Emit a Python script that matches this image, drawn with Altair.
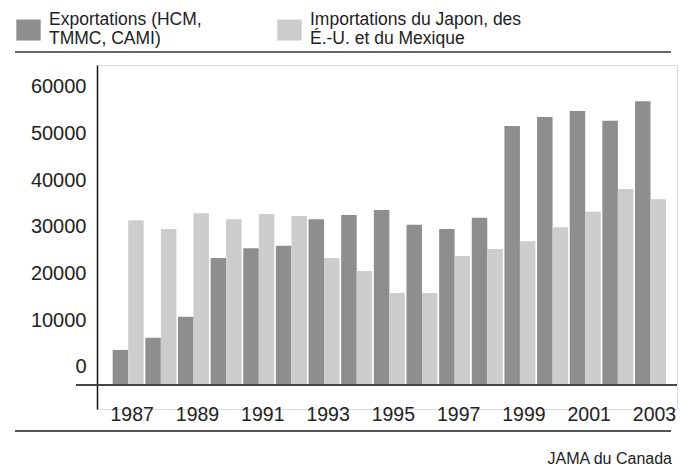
import altair as alt
import pandas as pd

# ---- data ----
years = list(range(1987, 2004))
exports = [3600, 6200, 10700, 23300, 25400, 25900, 31600, 32500, 33600,
           30400, 29500, 31900, 51600, 53500, 54800, 52700, 56900]
imports = [31400, 29500, 32900, 31600, 32700, 32300, 23300, 20500, 15800,
           15800, 23700, 25200, 26900, 29900, 33200, 38100, 35900]
series_names = ["Exportations (HCM,|TMMC, CAMI)",
                "Importations du Japon, des|É.-U. et du Mexique"]
tick_years = [1987, 1989, 1991, 1993, 1995, 1997, 1999, 2001, 2003]
y_ticks = [0, 10000, 20000, 30000, 40000, 50000, 60000]
source_note = "JAMA du Canada"

rows = []
for yr, e, i in zip(years, exports, imports):
    rows.append({"year": yr, "series": series_names[0], "value": e})
    rows.append({"year": yr, "series": series_names[1], "value": i})
df = pd.DataFrame(rows)

# ---- styling ----
DARK = "#8e8e8e"
LIGHT = "#cdcdcd"
TXT = "#222222"
FONT = "Liberation Sans"
BASE = -3900
Y_DOMAIN = [-9060, 64650]
W, H = 580, 344
# legend swatch: a square shifted down so it sits between the two label lines
SWATCH = "M-1.09,-0.02H1.09V1.86H-1.09Z"

yscale = alt.Scale(domain=Y_DOMAIN, nice=False, zero=False)

bars = alt.Chart(df).mark_bar(strokeWidth=0).encode(
    x=alt.X("year:O",
            scale=alt.Scale(range=[15.7, 569.0], paddingInner=0.05, paddingOuter=0),
            axis=alt.Axis(values=tick_years, title=None, domain=False, ticks=False,
                          labelAngle=0, labelFont=FONT, labelFontSize=19.5,
                          labelColor=TXT, labelPadding=-4, labelOffset=4)),
    xOffset=alt.XOffset("series:N", scale=alt.Scale(domain=series_names,
                                                     paddingInner=0, paddingOuter=0)),
    y=alt.Y("value:Q", scale=yscale,
            axis=alt.Axis(values=y_ticks, format="d", title=None, grid=False,
                          ticks=False, domain=True, domainColor="#111111",
                          domainWidth=1.5, labelFont=FONT, labelFontSize=20,
                          labelColor=TXT, labelPadding=11)),
    y2=alt.datum(BASE),
    color=alt.Color("series:N",
                    scale=alt.Scale(domain=series_names, range=[DARK, LIGHT]),
                    legend=alt.Legend(title=None, orient="none", legendX=-80,
                                      legendY=-57, direction="horizontal",
                                      symbolType=SWATCH, symbolSize=500,
                                      symbolStrokeWidth=0, symbolOpacity=1,
                                      labelExpr="split(datum.label, '|')",
                                      labelFont=FONT, labelFontSize=17.5,
                                      labelColor=TXT, labelOffset=9,
                                      columnPadding=75, labelLimit=400)),
)

one = pd.DataFrame({"k": [0]})
top_line = alt.Chart(one).mark_rule(color="#666666", strokeWidth=2).encode(
    x=alt.value(-82), x2=alt.value(574), y=alt.value(-60))
legend_line = alt.Chart(one).mark_rule(color="#666666", strokeWidth=2).encode(
    x=alt.value(-82), x2=alt.value(574), y=alt.value(-13))
bottom_line = alt.Chart(one).mark_rule(color="#555555", strokeWidth=2).encode(
    x=alt.value(-82), x2=alt.value(574), y=alt.value(366))
base_line = alt.Chart(one).mark_rule(color="#444444", strokeWidth=2).encode(
    x=alt.value(-21), x2=alt.value(580), y=alt.datum(BASE))

chart = alt.layer(bars, base_line, top_line, legend_line, bottom_line).properties(
    width=W, height=H,
    autosize=alt.AutoSizeParams(type="none"),
    padding={"left": 89, "top": 57, "right": 6, "bottom": 58},
    title=alt.TitleParams(source_note, orient="bottom", anchor="end", font=FONT,
                          fontSize=16, fontWeight="normal", color=TXT,
                          offset=19, dx=-6),
).configure_view(stroke=None).configure(background="white")

chart.save("out.html", embed_options={"renderer": "svg", "actions": False})
